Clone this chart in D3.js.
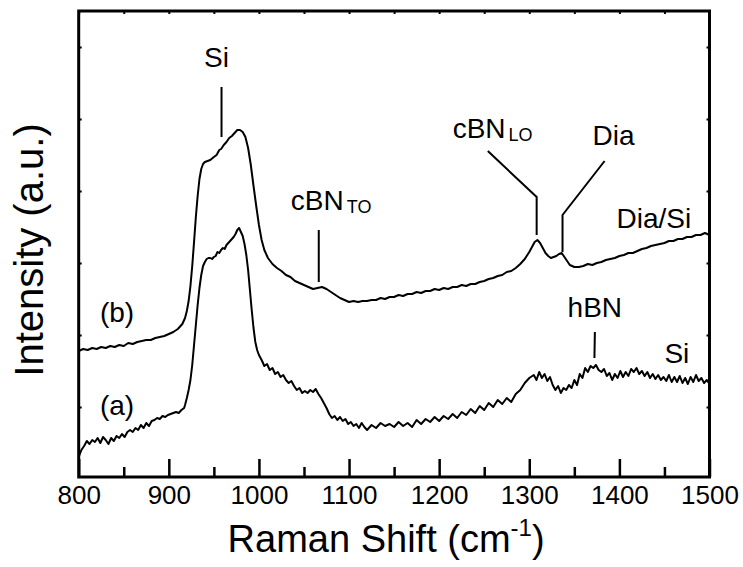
<!DOCTYPE html>
<html>
<head>
<meta charset="utf-8">
<script src="https://cdn.jsdelivr.net/npm/d3@7"></script>
<style>
  html, body { margin: 0; padding: 0; background: #fff; }
  svg { display: block; }
  text { font-family: "Liberation Sans", Arial, sans-serif; fill: #000; }
</style>
</head>
<body>
<svg id="chart" width="743" height="567"></svg>
<script>
// Raman spectra of two films: (a) on Si, (b) on diamond-coated Si
const shiftB = [800,805,810,815,820,825,830,835,840,845,850,855,860,865,870,875,880,885,890,895,900,905,910,915,918,920,922,924,926,928,930,932,934,936,938,940,943,946,950,953,956,958,961,964,967,970,973,976,979,982,985,988,991,994,997,1000,1003,1006,1010,1015,1020,1025,1030,1035,1040,1045,1050,1055,1060,1065,1070,1075,1080,1085,1090,1095,1100,1105,1110,1115,1120,1125,1130,1135,1140,1145,1150,1155,1160,1165,1170,1175,1180,1185,1190,1195,1200,1205,1210,1215,1220,1225,1230,1235,1240,1245,1250,1255,1260,1265,1270,1275,1280,1285,1290,1295,1300,1303,1306,1309,1312,1315,1318,1321,1324,1327,1330,1333,1336,1339,1342,1345,1350,1355,1360,1365,1370,1375,1380,1385,1390,1395,1400,1405,1410,1415,1420,1425,1430,1435,1440,1445,1450,1455,1460,1465,1470,1475,1480,1485,1490,1495,1500];
const intensityB = [126,128,127,129,128,130,129,131,130,132,131,134,133,135,136,137,137,139,140,141,143,145,148,153,159,166,176,191,211,235,260,281,298,308,313,315,316,317,320,322,327,328,332,335,339,341,344,347,347,345,340,329,312,291,271,252,237,227,219,213,209,206,202,200,196,194,192,190,188,189,190,188,185,182,179,177,175,176,175,176,176,177,177,179,178,180,180,182,181,183,183,185,184,186,186,188,187,189,188,190,190,192,191,193,193,195,196,198,199,201,202,205,206,209,213,218,225,230,235,237,234,229,224,221,219,220,221,223,224,220,216,212,210,210,211,213,212,214,215,217,218,219,221,222,224,224,226,228,229,231,232,233,234,236,236,238,238,240,240,242,242,244,242];

const shiftA = [800,803,806,809,812,815,818,821,824,827,830,833,836,839,842,845,848,851,854,857,860,863,866,869,872,875,878,881,884,887,890,893,896,899,902,905,908,911,914,917,918,920,922,924,926,928,930,932,934,936,938,940,942,944,946,948,950,952,954,956,958,960,962,964,966,968,970,972,974,976,978,980,982,984,986,988,990,992,994,996,998,1000,1003,1006,1009,1012,1015,1018,1021,1024,1027,1030,1033,1036,1039,1042,1045,1048,1051,1054,1057,1060,1063,1066,1069,1072,1075,1078,1081,1084,1087,1090,1093,1096,1099,1102,1105,1108,1111,1114,1117,1120,1125,1130,1135,1140,1145,1150,1155,1160,1165,1170,1175,1180,1185,1190,1195,1200,1205,1210,1215,1220,1225,1230,1235,1240,1245,1250,1255,1260,1265,1270,1275,1280,1285,1290,1295,1300,1305,1308,1311,1314,1317,1320,1323,1326,1329,1332,1335,1338,1341,1344,1347,1350,1353,1356,1359,1362,1365,1368,1371,1374,1377,1380,1383,1386,1389,1392,1395,1398,1401,1404,1407,1410,1413,1416,1419,1422,1425,1428,1431,1434,1437,1440,1443,1446,1449,1452,1455,1458,1461,1464,1467,1470,1473,1476,1479,1482,1485,1488,1491,1494,1497,1500];
const intensityA = [20,27,31,36,33,37,35,39,34,40,37,33,39,36,41,39,43,40,45,47,45,49,47,52,49,54,51,56,57,59,58,61,60,62,63,64,65,64,67,69,72,79,87,97,112,132,152,172,189,202,211,215,218,219,219,218,220,221,225,224,227,229,228,232,234,236,238,240,243,247,249,245,241,233,222,207,187,167,149,135,127,122,117,111,113,107,109,103,105,100,102,97,94,96,91,87,89,84,86,84,87,85,88,83,79,74,69,63,59,61,57,60,56,58,53,55,51,53,49,54,50,47,52,49,54,51,53,50,55,51,54,50,57,53,58,55,60,56,61,58,63,59,65,62,68,64,71,67,74,70,77,73,79,75,83,87,94,99,102,97,105,99,103,96,100,92,87,91,84,89,87,92,89,97,92,103,99,109,105,111,109,112,107,105,108,101,104,97,103,99,106,100,105,101,108,105,109,103,106,101,105,99,103,98,102,97,100,96,102,95,100,95,101,94,99,93,100,95,102,96,99,94,97,93];

// Axis ticks
const xMajorTicks = [800, 900, 1000, 1100, 1200, 1300, 1400, 1500];
const xMinorTicks = [850, 950, 1050, 1150, 1250, 1350, 1450];
const xAllTicks = [800, 850, 900, 950, 1000, 1050, 1100, 1150, 1200, 1250, 1300, 1350, 1400, 1450, 1500];
const yTicks = [70, 142, 214, 286, 358, 430];

// Peak labels: text, anchor point (shift, intensity), subscript
const peakLabels = [
  { text: "Si",     sub: "",   shift: 939,    value: 410 },
  { text: "cBN",    sub: "TO", shift: 1035.4, value: 267 },
  { text: "cBN",    sub: "LO", shift: 1215,   value: 339 },
  { text: "Dia",    sub: "",   shift: 1370.3, value: 332 },
  { text: "Dia/Si", sub: "",   shift: 1396.9, value: 249 },
  { text: "hBN",    sub: "",   shift: 1342.5, value: 160 },
  { text: "Si",     sub: "",   shift: 1450,   value: 114 },
  { text: "(b)",    sub: "",   shift: 823.6,  value: 155 },
  { text: "(a)",    sub: "",   shift: 823.6,  value: 62 }
];

// Leader lines from labels down to the peaks (polylines in data units)
const leaders = [
  [[958.5, 390], [958.5, 340]],
  [[1066.4, 247], [1066.4, 195]],
  [[1254, 326], [1308.2, 280], [1308.2, 242]],
  [[1383.6, 316], [1336.9, 262], [1336.9, 225]],
  [[1372.8, 145], [1372.3, 119]]
];

const svg = d3.select("#chart");
const W = 743, H = 567;
const margin = { left: 78.7, right: 33.5, top: 11, bottom: 90 };
const plotW = W - margin.left - margin.right;
const plotH = H - margin.top - margin.bottom;

const x = d3.scaleLinear().domain([800, 1500]).range([margin.left, margin.left + plotW]);
const y = d3.scaleLinear().domain([0, 466]).range([margin.top + plotH, margin.top]);

const line = d3.line().x(d => x(d[0])).y(d => y(d[1]));

// Spectra
const seriesA = shiftA.map((s, i) => [s, intensityA[i]]);
const seriesB = shiftB.map((s, i) => [s, intensityB[i]]);

svg.append("clipPath").attr("id", "plot-clip")
  .append("rect").attr("x", margin.left).attr("y", margin.top).attr("width", plotW).attr("height", plotH);

const curves = svg.append("g").attr("clip-path", "url(#plot-clip)");
[seriesA, seriesB].forEach(s => {
  curves.append("path").datum(s)
    .attr("d", line)
    .attr("fill", "none")
    .attr("stroke", "#000")
    .attr("stroke-width", 2)
    .attr("stroke-linejoin", "round");
});

// Axes
const bottom = margin.top + plotH;
const gx = svg.append("g").attr("transform", `translate(0,${bottom})`);
gx.call(d3.axisBottom(x).tickValues(xMajorTicks).tickSize(-18).tickPadding(9).tickFormat(d3.format("d")));
gx.select(".domain").remove();
gx.selectAll(".tick line").attr("stroke", "#000").attr("stroke-width", 2.5);
gx.selectAll(".tick text").attr("font-size", 26).attr("font-family", "Liberation Sans, Arial, sans-serif");

const gxm = svg.append("g").attr("transform", `translate(0,${bottom})`);
gxm.call(d3.axisBottom(x).tickValues(xMinorTicks).tickSize(-10).tickFormat(""));
gxm.select(".domain").remove();
gxm.selectAll(".tick line").attr("stroke", "#000").attr("stroke-width", 2.5);

const gt = svg.append("g").attr("transform", `translate(0,${margin.top})`);
gt.call(d3.axisTop(x).tickValues(xAllTicks).tickSize(-3).tickFormat(""));
gt.select(".domain").remove();
gt.selectAll(".tick line").attr("stroke", "#000").attr("stroke-width", 2);

const gl = svg.append("g").attr("transform", `translate(${margin.left},0)`);
gl.call(d3.axisLeft(y).tickValues(yTicks).tickSize(-3).tickFormat(""));
gl.select(".domain").remove();
gl.selectAll(".tick line").attr("stroke", "#000").attr("stroke-width", 2);

const gr = svg.append("g").attr("transform", `translate(${margin.left + plotW},0)`);
gr.call(d3.axisRight(y).tickValues(yTicks).tickSize(-3).tickFormat(""));
gr.select(".domain").remove();
gr.selectAll(".tick line").attr("stroke", "#000").attr("stroke-width", 2);

// Frame
svg.append("rect")
  .attr("x", margin.left).attr("y", margin.top)
  .attr("width", plotW).attr("height", plotH)
  .attr("fill", "none").attr("stroke", "#000").attr("stroke-width", 3);

// Axis titles
const xt = svg.append("text")
  .attr("x", margin.left + plotW / 2 - 8).attr("y", 552)
  .attr("text-anchor", "middle").attr("font-size", 38);
xt.append("tspan").text("Raman Shift (cm");
xt.append("tspan").attr("font-size", 24).attr("dy", -16).text("-1");
xt.append("tspan").attr("dy", 16).text(")");

svg.append("text")
  .attr("transform", `translate(43,250) rotate(-90)`)
  .attr("text-anchor", "middle").attr("font-size", 40)
  .text("Intensity (a.u.)");

// Peak labels
const labels = svg.append("g");
peakLabels.forEach(p => {
  const t = labels.append("text")
    .attr("x", x(p.shift)).attr("y", y(p.value))
    .attr("font-size", 28);
  t.append("tspan").text(p.text);
  if (p.sub) {
    t.append("tspan").attr("font-size", 18).attr("dx", 3).attr("dy", 3).text(p.sub);
  }
});

leaders.forEach(pts => {
  labels.append("path").datum(pts)
    .attr("d", line)
    .attr("fill", "none")
    .attr("stroke", "#000")
    .attr("stroke-width", 2);
});
</script>
</body>
</html>
